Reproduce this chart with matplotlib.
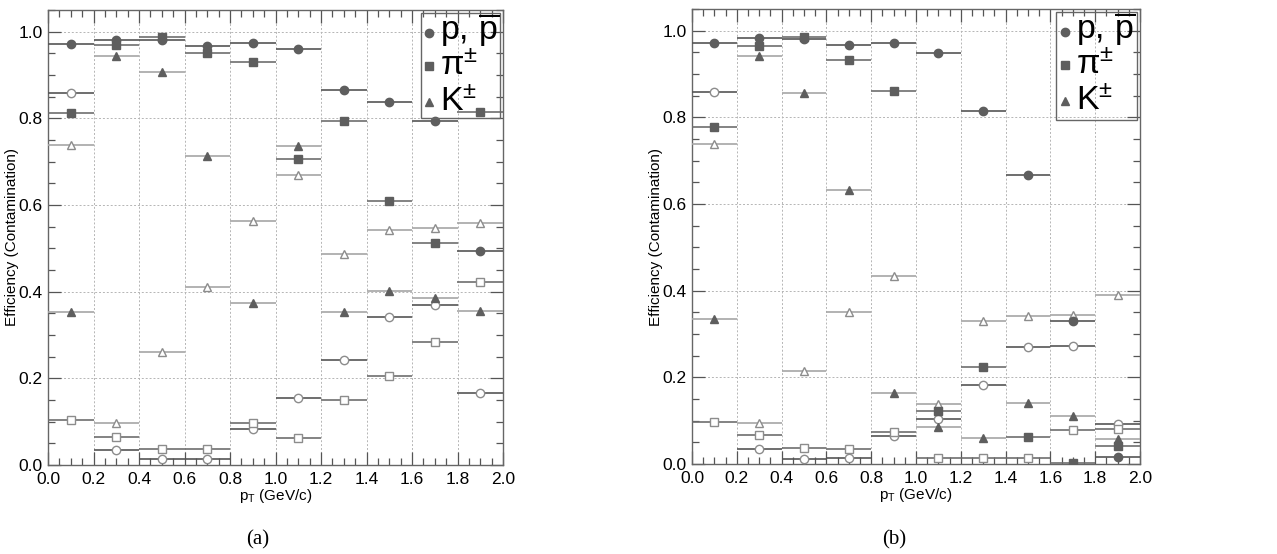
import numpy as np
import matplotlib
matplotlib.use("Agg")
import matplotlib.pyplot as plt
from matplotlib.patches import Rectangle
from matplotlib.ticker import MultipleLocator, FormatStrFormatter

plt.rcParams["font.family"] = ["Liberation Sans", "DejaVu Sans"]
plt.rcParams["mathtext.fontset"] = "custom"
plt.rcParams["mathtext.rm"] = "Liberation Sans"
plt.rcParams["mathtext.it"] = "Liberation Sans:italic"
plt.rcParams["mathtext.bf"] = "Liberation Sans:bold"

# pT bin centres (GeV/c), bin half width 0.1
pt = [0.1, 0.3, 0.5, 0.7, 0.9, 1.1, 1.3, 1.5, 1.7, 1.9]
half_width = 0.1

# panel (a)
p_eff_a = [0.972, 0.981, 0.980, 0.968, 0.973, 0.960, 0.866, 0.838, 0.794, 0.495]
p_cont_a = [0.858, 0.034, 0.013, 0.015, 0.083, 0.155, 0.242, 0.341, 0.369, 0.166]
pi_eff_a = [0.812, 0.970, 0.987, 0.951, 0.929, 0.707, 0.795, 0.609, 0.512, 0.814]
pi_cont_a = [0.104, 0.065, 0.038, 0.037, 0.098, 0.063, 0.151, 0.206, 0.284, 0.423]
k_eff_a = [0.353, 0.945, 0.908, 0.712, 0.375, 0.737, 0.354, 0.402, 0.385, 0.355]
k_cont_a = [0.739, 0.096, 0.260, 0.410, 0.563, 0.670, 0.487, 0.543, 0.546, 0.558]

# panel (b)
p_eff_b = [0.972, 0.982, 0.981, 0.968, 0.972, 0.948, 0.815, 0.666, 0.331, 0.017]
p_cont_b = [0.858, 0.034, 0.012, 0.015, 0.065, 0.105, 0.183, 0.271, 0.273, 0.092]
pi_eff_b = [0.777, 0.965, 0.985, 0.933, 0.861, 0.123, 0.223, 0.063, 0.002, 0.042]
pi_cont_b = [0.098, 0.066, 0.038, 0.035, 0.075, 0.013, 0.015, 0.013, 0.078, 0.080]
k_eff_b = [0.334, 0.942, 0.856, 0.633, 0.163, 0.086, 0.059, 0.140, 0.111, 0.058]
k_cont_b = [0.739, 0.094, 0.215, 0.351, 0.434, 0.138, 0.330, 0.342, 0.344, 0.389]

legend_labels = [r"$\mathrm{p},\,\overline{\mathrm{p}}$", r"$\mathrm{π}^{\pm}$", r"$\mathrm{K}^{\pm}$"]

FILL = "#5e5e5e"
OPEN_EDGE = "#8c8c8c"
# marker, marker size, bar colour for p, pi, K
STYLES = [("o", 6.0, "#555555"), ("s", 5.3, "#6e6e6e"), ("^", 6.0, "#a6a6a6")]


def draw_series(ax, vals, style, filled):
    marker, ms, lc = style
    ax.errorbar(pt, vals, xerr=half_width, fmt=marker, ms=ms,
                mfc=FILL if filled else "white",
                mec=FILL if filled else OPEN_EDGE,
                mew=1.0, ecolor=lc, elinewidth=1.2, capsize=0, zorder=3)


def setup_axes(ax):
    ax.set_xlim(0, 2.0)
    ax.set_ylim(0, 1.05)
    ax.xaxis.set_major_locator(MultipleLocator(0.2))
    ax.xaxis.set_minor_locator(MultipleLocator(0.05))
    ax.yaxis.set_major_locator(MultipleLocator(0.2))
    ax.yaxis.set_minor_locator(MultipleLocator(0.05))
    ax.xaxis.set_major_formatter(FormatStrFormatter("%.1f"))
    ax.yaxis.set_major_formatter(FormatStrFormatter("%.1f"))
    ax.tick_params(which="both", direction="in", top=True, right=True,
                   color="#555555", labelsize=12.5)
    ax.tick_params(axis="x", pad=5)
    ax.tick_params(axis="y", pad=4)
    ax.tick_params(which="major", length=9.5, width=0.9)
    ax.tick_params(which="minor", length=5, width=0.9)
    ax.grid(True, which="major", ls=(0, (2, 2)), color="#b5b5b5", lw=0.7, zorder=0)
    for sp in ax.spines.values():
        sp.set_color("#666666")
        sp.set_linewidth(1.0)
    ax.set_xlabel(r"p$_{\mathrm{T}}$ (GeV/c)", fontsize=11)
    ax.set_ylabel("Efficiency (Contamination)", fontsize=11)
    ax.xaxis.set_label_coords(0.5, -0.048)
    ax.yaxis.set_label_coords(-0.064, 0.5)


def draw_legend(ax, box, mark_x, text_x, rows):
    x0, y0, x1, y1 = box
    ax.add_patch(Rectangle((x0, y0), x1 - x0, y1 - y0, transform=ax.transAxes,
                           fill=False, ec="#666666", lw=1.0, zorder=5, clip_on=False))
    for (marker, ms, lc), label, (ym, yt) in zip(STYLES, legend_labels, rows):
        ax.plot([mark_x], [ym], marker=marker, ms=ms, color=FILL,
                transform=ax.transAxes, zorder=6, clip_on=False)
        ax.text(text_x, yt, label, transform=ax.transAxes, fontsize=24.5,
                va="baseline", ha="left", zorder=6)


fig = plt.figure(figsize=(12.77, 5.54), dpi=100)

ax1 = fig.add_axes([48 / 1277, 1 - 465 / 554, 455 / 1277, 455 / 554])
ax2 = fig.add_axes([692 / 1277, 1 - 464 / 554, 448 / 1277, 455 / 554])

panels = [
    (ax1, [p_eff_a, pi_eff_a, k_eff_a], [p_cont_a, pi_cont_a, k_cont_a]),
    (ax2, [p_eff_b, pi_eff_b, k_eff_b], [p_cont_b, pi_cont_b, k_cont_b]),
]

for ax, effs, conts in panels:
    setup_axes(ax)
    for vals, st in zip(conts, STYLES):
        draw_series(ax, vals, st, False)
    for vals, st in zip(effs, STYLES):
        draw_series(ax, vals, st, True)

rows = [(0.950, 0.935), (0.877, 0.857), (0.798, 0.778)]
draw_legend(ax1, (0.82, 0.763, 0.993, 0.993), 0.838, 0.862, rows)
draw_legend(ax2, (0.812, 0.756, 0.993, 0.993), 0.832, 0.857, rows)

fig.text(258 / 1277, 0.025, "(a)", family="Liberation Serif", fontsize=15,
         ha="center", va="center")
fig.text(894 / 1277, 0.025, "(b)", family="Liberation Serif", fontsize=15,
         ha="center", va="center")

fig.savefig("out.png", dpi=100)
